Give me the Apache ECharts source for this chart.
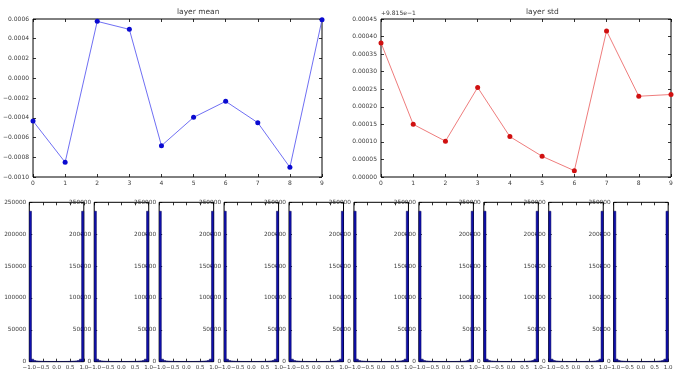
<!DOCTYPE html>
<html>
<head>
<meta charset="utf-8">
<script src="https://cdn.jsdelivr.net/npm/echarts@6/dist/echarts.min.js"></script>
<style>html,body{margin:0;padding:0;background:#fff}#c{width:682px;height:378px}</style>
</head>
<body>
<div id="c"></div>
<script>
// ---- data ----
const LAYERS = [0, 1, 2, 3, 4, 5, 6, 7, 8, 9];
const LAYER_MEAN = [-0.000433, -0.000851, 0.000576, 0.000495, -0.000683, -0.000396, -0.000234, -0.00045, -0.000902, 0.000593];
const STD_OFFSET_LABEL = '+9.815e\u22121';
const LAYER_STD = [0.000382, 0.00015, 0.000102, 0.000255, 0.000115, 0.000059, 0.000018, 0.000416, 0.00023, 0.000235];
const MEAN_TICKS = [-0.0010, -0.0008, -0.0006, -0.0004, -0.0002, 0.0, 0.0002, 0.0004, 0.0006];
const STD_TICKS = [0, 0.00005, 0.0001, 0.00015, 0.0002, 0.00025, 0.0003, 0.00035, 0.0004, 0.00045];
const HIST_RANGE = [-1, 1];
const HIST_COUNTS = [236000, 4000, 1800, 1200, 900, 700, 600, 500, 450, 400, 400, 400, 400, 400, 400, 400, 450, 500, 600, 700, 900, 1200, 1800, 4000, 236000];
const HIST_PANELS = [0, 1, 2, 3, 4, 5, 6, 7, 8, 9];
const HIST_X_TICKS = [-1.0, -0.5, 0.0, 0.5, 1.0];
const HIST_Y_TICKS = [0, 50000, 100000, 150000, 200000, 250000];

// ---- helpers ----
const FONT = 'DejaVu Sans';
const minus = s => s.replace('-', '\u2212');
const TXT = '#3a3a3a';

const chart = echarts.init(document.getElementById('c'), null, {renderer: 'canvas'});
const grids = [], xAxes = [], yAxes = [], series = [];
const tick = {inside: true, length: 3, lineStyle: {color: '#000', width: 0.8}};
const noLine = {show: false, onZero: false};

function addPanel(g, xa, ya, xa2, ya2) {
  const gi = grids.length;
  grids.push(Object.assign({show: true, borderColor: '#000', borderWidth: 1, backgroundColor: '#fff'}, g));
  const xi = xAxes.length;
  xAxes.push(Object.assign({gridIndex: gi, type: 'value', position: 'bottom', splitLine: {show: false},
    axisLine: noLine, axisTick: tick}, xa));
  xAxes.push(Object.assign({gridIndex: gi, type: 'value', position: 'top', splitLine: {show: false},
    axisLine: noLine, axisLabel: {show: false}, axisTick: tick}, xa2));
  const yi = yAxes.length;
  yAxes.push(Object.assign({gridIndex: gi, type: 'value', position: 'left', splitLine: {show: false},
    axisLine: noLine, axisTick: tick}, ya));
  yAxes.push(Object.assign({gridIndex: gi, type: 'value', position: 'right', splitLine: {show: false},
    axisLine: noLine, axisLabel: {show: false}, axisTick: tick}, ya2));
  return {xi, yi};
}

const lblBase = {color: TXT, fontFamily: FONT, fontSize: 6, showMinLabel: true, showMaxLabel: true, hideOverlap: false};

// layer mean
{
  const xr = {min: 0, max: 9, interval: 1};
  const yr = {min: MEAN_TICKS[0], max: MEAN_TICKS[MEAN_TICKS.length - 1], interval: 0.0002};
  const p = addPanel({left: 32, top: 19, width: 290, height: 158},
    Object.assign({axisLabel: Object.assign({}, lblBase, {margin: 3, formatter: v => String(Math.round(v))})}, xr),
    Object.assign({axisLabel: Object.assign({}, lblBase, {margin: 4, formatter: v => minus(v.toFixed(4))})}, yr),
    xr, yr);
  series.push({type: 'line', xAxisIndex: p.xi, yAxisIndex: p.yi,
    data: LAYERS.map((x, i) => [x, LAYER_MEAN[i]]),
    symbol: 'circle', symbolSize: 5, showSymbol: true,
    itemStyle: {color: '#0a0ad0'}, lineStyle: {color: '#4a4af0', width: 0.8}, animation: false, clip: false});
}
// layer std
{
  const xr = {min: 0, max: 9, interval: 1};
  const yr = {min: 0, max: 0.00045, interval: 0.00005};
  const p = addPanel({left: 381, top: 19, width: 290, height: 158},
    Object.assign({axisLabel: Object.assign({}, lblBase, {margin: 3, formatter: v => String(Math.round(v))})}, xr),
    Object.assign({axisLabel: Object.assign({}, lblBase, {margin: 4, formatter: v => v.toFixed(5)})}, yr),
    xr, yr);
  series.push({type: 'line', xAxisIndex: p.xi, yAxisIndex: p.yi,
    data: LAYERS.map((x, i) => [x, LAYER_STD[i]]),
    symbol: 'circle', symbolSize: 5, showSymbol: true,
    itemStyle: {color: '#d01010'}, lineStyle: {color: '#ea5a5a', width: 0.8}, animation: false, clip: false});
}
// histograms
const nb = HIST_COUNTS.length;
const bw = (HIST_RANGE[1] - HIST_RANGE[0]) / nb;
const histData = HIST_COUNTS.map((c, i) => [HIST_RANGE[0] + i * bw, HIST_RANGE[0] + (i + 1) * bw, c]);
HIST_PANELS.forEach((k, i) => {
  const xr = {min: HIST_RANGE[0], max: HIST_RANGE[1], interval: 0.5};
  const yr = {min: 0, max: HIST_Y_TICKS[HIST_Y_TICKS.length - 1], interval: 50000};
  const p = addPanel({left: 29.3 + 64.93 * i, top: 202.3, width: 54.5, height: 159.4},
    Object.assign({axisLabel: Object.assign({}, lblBase, {margin: 3, fontSize: 5.5, formatter: v => minus(v.toFixed(1))})}, xr),
    Object.assign({axisLabel: Object.assign({}, lblBase, {margin: 3, fontSize: 5.8, formatter: v => String(Math.round(v))})}, yr),
    xr, yr);
  series.push({type: 'custom', xAxisIndex: p.xi, yAxisIndex: p.yi, data: histData,
    encode: {x: [0, 1], y: 2}, animation: false, clip: true, z: 3,
    renderItem: (params, api) => {
      const a = api.coord([api.value(0), api.value(2)]);
      const b = api.coord([api.value(1), 0]);
      return {type: 'rect', shape: {x: a[0], y: a[1], width: b[0] - a[0], height: b[1] - a[1]},
        style: {fill: '#1010b0', stroke: '#000050', lineWidth: 0.5}};
    }});
});

chart.setOption({
  animation: false,
  backgroundColor: '#fff',
  grid: grids, xAxis: xAxes, yAxis: yAxes, series: series,
  graphic: [
    {type: 'text', left: 177, top: 8, style: {text: 'layer mean', fontFamily: FONT, fontSize: 7.5, fill: TXT, textAlign: 'center'}},
    {type: 'text', left: 526, top: 8, style: {text: 'layer std', fontFamily: FONT, fontSize: 7.5, fill: TXT, textAlign: 'center'}},
    {type: 'text', left: 381, top: 10, style: {text: STD_OFFSET_LABEL, fontFamily: FONT, fontSize: 6, fill: TXT}}
  ]
});
</script>
</body>
</html>
